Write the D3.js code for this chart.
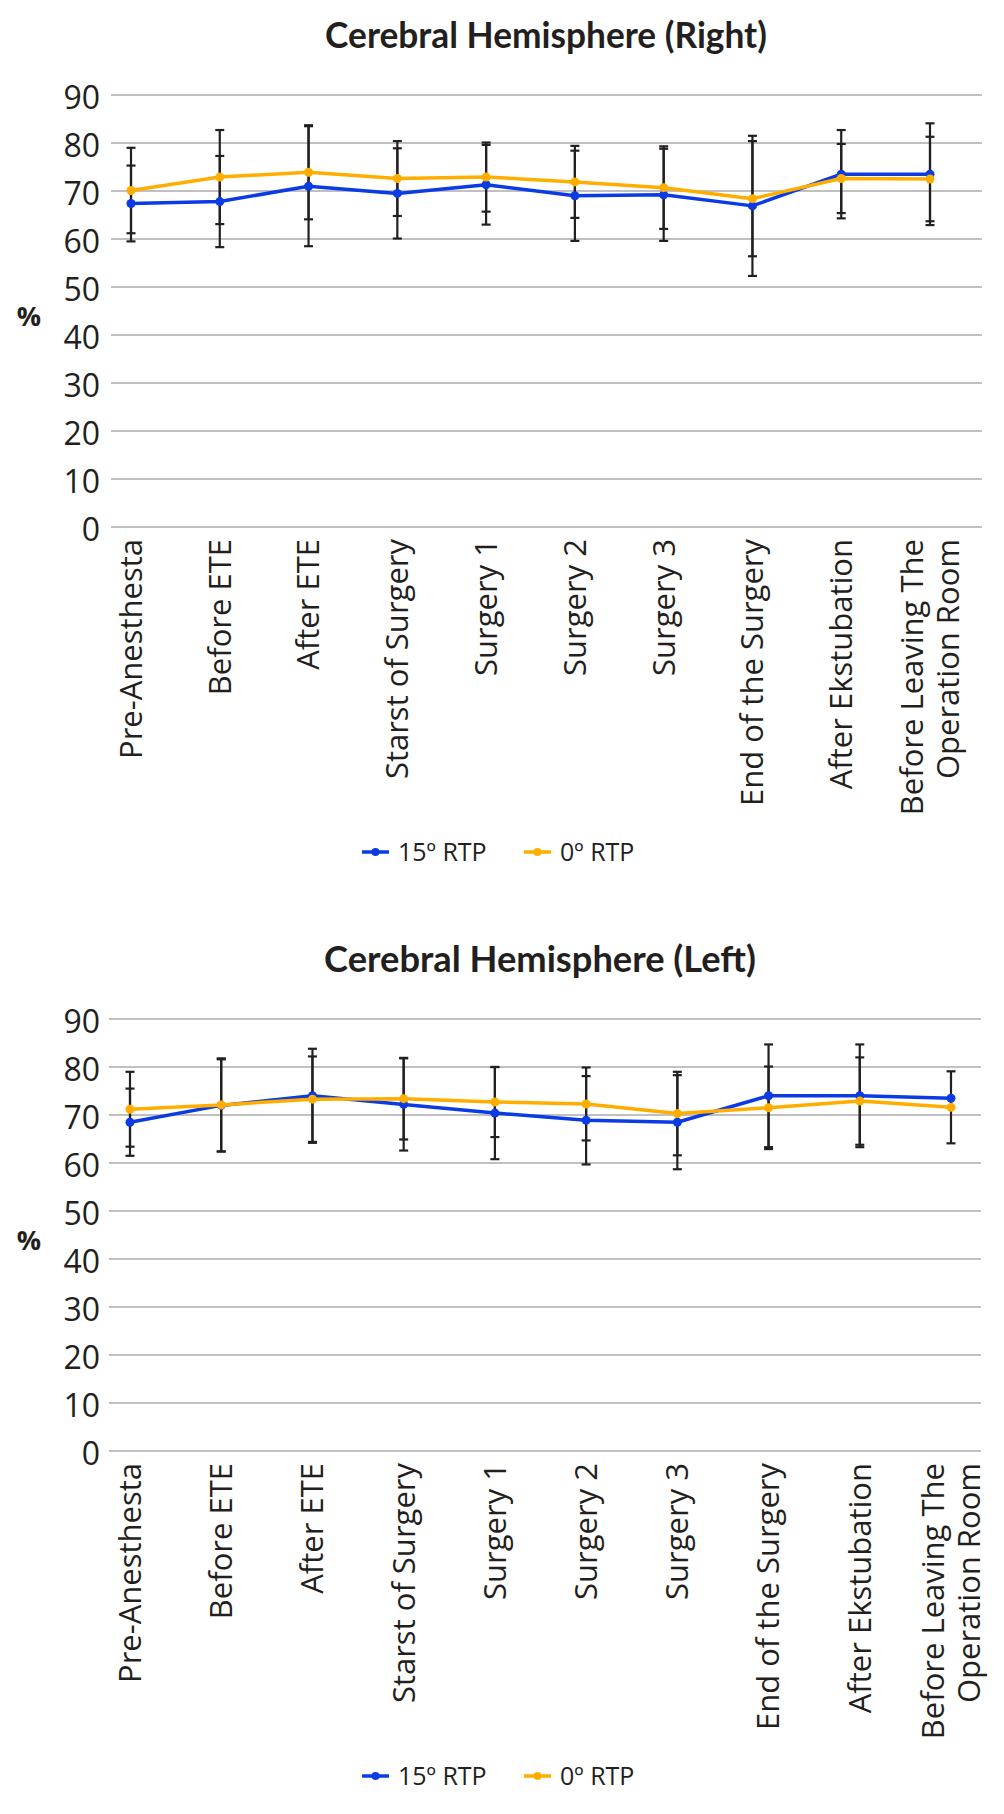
<!DOCTYPE html>
<html>
<head>
<meta charset="utf-8">
<script src="https://cdn.jsdelivr.net/npm/d3@7"></script>
<style>
  html, body { margin: 0; padding: 0; background: #ffffff; }
  svg { display: block; }
</style>
</head>
<body>
<svg id="chart" width="1004" height="1814"></svg>
<script>
// ---------------- DATA ----------------
const categories = [
  "Pre-Anesthesta", "Before ETE", "After ETE", "Starst of Surgery", "Surgery 1",
  "Surgery 2", "Surgery 3", "End of the Surgery", "After Ekstubation",
  "Before Leaving The\nOperation Room"
];
const yTicks = [0, 10, 20, 30, 40, 50, 60, 70, 80, 90];
const seriesNames = ["15º RTP", "0º RTP"];
const seriesColors = ["#0a3be4", "#ffae00"];

// Cerebral Hemisphere (Right)
const rightTitle = "Cerebral Hemisphere (Right)";
const right15 = [67.4, 67.8, 71.0, 69.5, 71.3, 69.0, 69.2, 66.9, 73.5, 73.5];
const right15SD = [7.9, 9.5, 12.5, 9.4, 8.3, 9.4, 9.6, 14.6, 9.2, 10.6];
const right0 = [70.1, 72.9, 73.9, 72.6, 72.9, 71.9, 70.7, 68.4, 72.6, 72.5];
const right0SD = [8.9, 9.8, 9.8, 7.8, 7.2, 7.5, 8.6, 12.0, 7.2, 8.8];

// Cerebral Hemisphere (Left)
const leftTitle = "Cerebral Hemisphere (Left)";
const left15 = [68.5, 72.0, 74.0, 72.2, 70.4, 68.9, 68.5, 74.0, 74.0, 73.5];
const left15SD = [7.0, 9.6, 9.8, 9.6, 9.6, 9.2, 9.8, 10.7, 10.7, null];
const left0 = [71.2, 72.1, 73.3, 73.4, 72.7, 72.3, 70.3, 71.5, 72.9, 71.6];
const left0SD = [7.8, 9.7, 8.9, 8.5, 7.3, 7.6, 8.7, 8.6, 9.1, 7.5];

// ---------------- DRAW ----------------
const svg = d3.select("#chart");
const textColor = "#231f20";
const sansFont = "'Open Sans', 'Noto Sans', sans-serif";
const titleFont = "Lato, 'Open Sans', sans-serif";

function drawChart(cfg) {
  const g = svg.append("g").attr("transform", `translate(0,${cfg.offsetY})`);
  const y = d3.scaleLinear().domain([0, 90]).range([527, 95]);
  const x = d3.scalePoint().domain(categories).range(cfg.xRange);

  // title
  const title = g.append("text")
    .attr("x", cfg.titleX).attr("y", 48)
    .attr("text-anchor", "middle")
    .attr("font-family", titleFont).attr("font-weight", 700)
    .attr("font-size", 30).attr("fill", textColor)
    .text(cfg.title);
  const w = title.node().getComputedTextLength();
  title.attr("font-size", 30 * cfg.titleWidth / w);

  // gridlines
  g.append("g").selectAll("line").data(yTicks).join("line")
    .attr("x1", cfg.gridX[0]).attr("x2", cfg.gridX[1])
    .attr("y1", d => y(d)).attr("y2", d => y(d))
    .attr("stroke", "#c0c0c3").attr("stroke-width", 2);

  // y tick labels
  g.append("g").selectAll("text").data(yTicks).join("text")
    .attr("x", 100).attr("y", d => y(d) + 14)
    .attr("text-anchor", "end")
    .attr("font-family", sansFont).attr("font-size", 32)
    .attr("fill", textColor)
    .text(d => d);

  // y axis title
  g.append("text")
    .attr("x", 29).attr("y", 326)
    .attr("text-anchor", "middle")
    .attr("font-family", sansFont).attr("font-weight", 700)
    .attr("font-size", 27).attr("fill", textColor)
    .text("%");

  // x labels
  const xl = g.append("g").selectAll("text").data(categories).join("text")
    .attr("transform", d => `translate(${x(d)},${y(0) + 12}) rotate(-90)`)
    .attr("text-anchor", "end")
    .attr("font-family", sansFont).attr("font-size", 31)
    .attr("fill", textColor);
  xl.each(function(d) {
    const lines = d.split("\n");
    const t = d3.select(this);
    const n = lines.length;
    lines.forEach((ln, i) => {
      t.append("tspan").attr("x", 0)
        .attr("dy", i === 0 ? (0.35 - (n - 1) * 0.59) + "em" : "1.18em")
        .text(ln);
    });
  });

  const series = [
    { vals: cfg.s15, sd: cfg.s15SD, color: seriesColors[0] },
    { vals: cfg.s0, sd: cfg.s0SD, color: seriesColors[1] }
  ];

  // error bars
  const eb = g.append("g");
  series.forEach(s => {
    s.vals.forEach((v, i) => {
      const sd = s.sd[i];
      if (sd == null) return;
      const cx = x(categories[i]);
      eb.append("line").attr("x1", cx).attr("x2", cx)
        .attr("y1", y(v - sd)).attr("y2", y(v + sd))
        .attr("stroke", textColor).attr("stroke-width", 2.2);
      [v - sd, v + sd].forEach(e => {
        eb.append("line").attr("x1", cx - 4.5).attr("x2", cx + 4.5)
          .attr("y1", y(e)).attr("y2", y(e))
          .attr("stroke", textColor).attr("stroke-width", 2.2);
      });
    });
  });

  // lines + markers
  series.forEach(s => {
    const line = d3.line().x((d, i) => x(categories[i])).y(d => y(d));
    g.append("path").datum(s.vals)
      .attr("d", line).attr("fill", "none")
      .attr("stroke", s.color).attr("stroke-width", 3.5)
      .attr("stroke-linejoin", "round");
    g.append("g").selectAll("circle").data(s.vals).join("circle")
      .attr("cx", (d, i) => x(categories[i])).attr("cy", d => y(d))
      .attr("r", 4.5).attr("fill", s.color);
  });

  // legend
  const lg = g.append("g").attr("transform", "translate(0,852)");
  const legendX = [362, 524];
  seriesNames.forEach((name, i) => {
    const lx = legendX[i];
    lg.append("line").attr("x1", lx).attr("x2", lx + 27).attr("y1", 0).attr("y2", 0)
      .attr("stroke", seriesColors[i]).attr("stroke-width", 3.5);
    lg.append("circle").attr("cx", lx + 13.5).attr("cy", 0).attr("r", 4)
      .attr("fill", seriesColors[i]);
    lg.append("text").attr("x", lx + 36).attr("y", 0).attr("dy", "0.36em")
      .attr("font-family", sansFont).attr("font-size", 25)
      .attr("fill", textColor).text(name);
  });
}

drawChart({
  offsetY: 0, title: rightTitle, titleX: 546, titleWidth: 442,
  xRange: [131, 930], gridX: [111, 982],
  s15: right15, s15SD: right15SD, s0: right0, s0SD: right0SD
});
drawChart({
  offsetY: 924, title: leftTitle, titleX: 540, titleWidth: 432,
  xRange: [130, 951], gridX: [109, 981],
  s15: left15, s15SD: left15SD, s0: left0, s0SD: left0SD
});
</script>
</body>
</html>
